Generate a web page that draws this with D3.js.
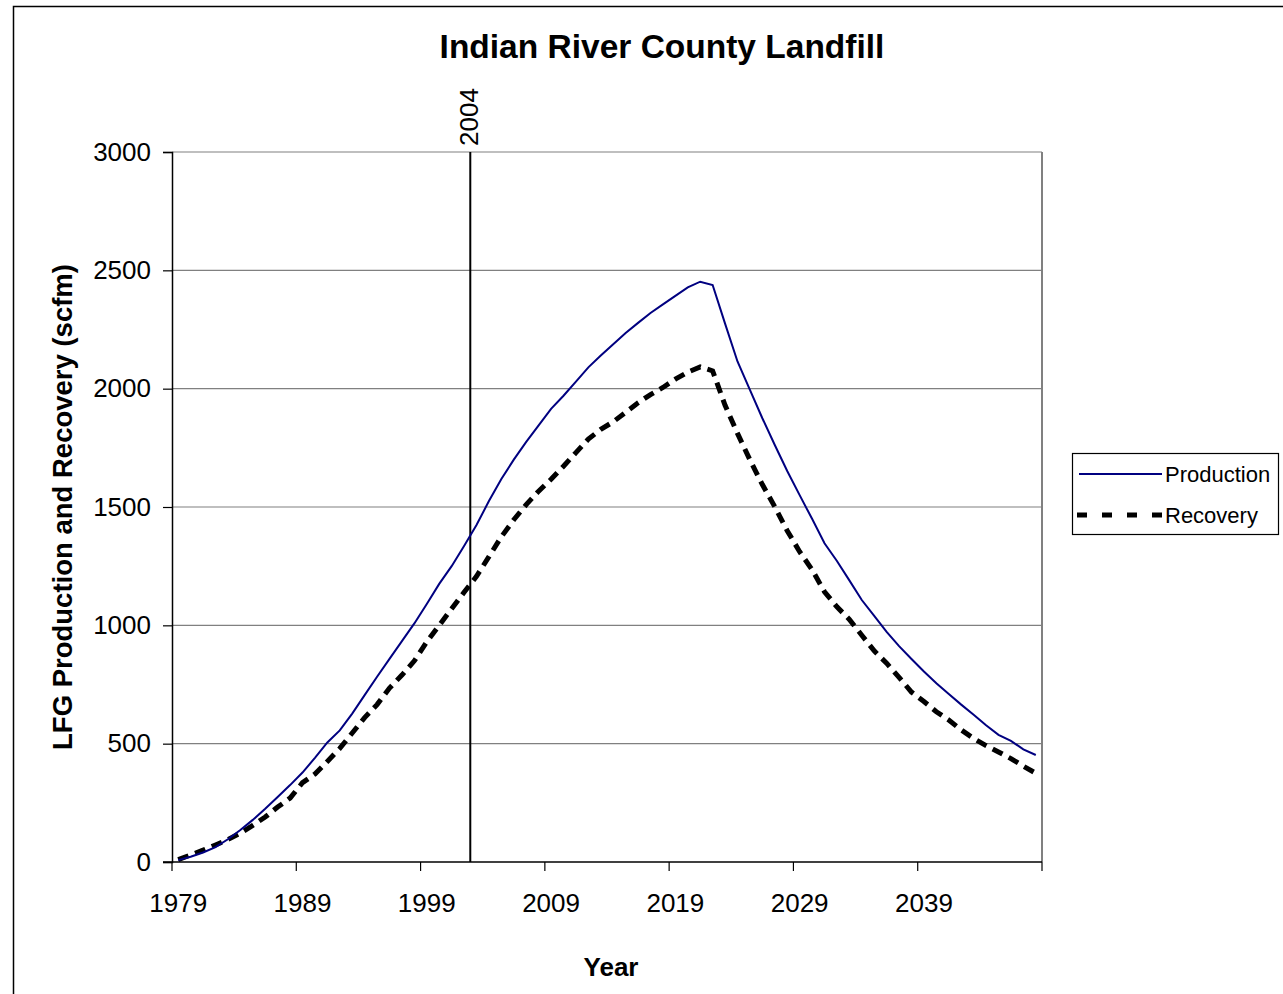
<!DOCTYPE html>
<html>
<head>
<meta charset="utf-8">
<script src="https://cdn.jsdelivr.net/npm/d3@7"></script>
<style>
  html, body { margin: 0; padding: 0; background: #fff; }
  svg { display: block; font-family: "Liberation Sans", Arial, sans-serif; }
</style>
</head>
<body>
<svg id="chart" width="1283" height="994"></svg>
<script>
// ---- Data ----
const years = d3.range(1979, 2049);
const production = [
  8, 22, 40, 63, 96, 135, 178, 225, 275, 325,
  378, 440, 505, 556, 627, 705, 783, 858, 933, 1008,
  1090, 1175, 1250, 1335, 1424, 1525, 1618, 1700, 1775, 1845,
  1915, 1970, 2030, 2090, 2140, 2188, 2235, 2278, 2320, 2356,
  2392, 2428, 2452, 2438, 2275, 2115, 1995, 1875, 1762, 1652,
  1550, 1450, 1347, 1272, 1190, 1107, 1040, 972, 912, 858,
  805, 755, 710, 665, 622, 578, 537, 512, 476, 452
];
const recovery = [
  10, 30, 50, 72, 95, 122, 155, 190, 232, 270,
  335, 372, 425, 480, 545, 610, 665, 735, 790, 850,
  930, 1000, 1070, 1140, 1207, 1290, 1374, 1446, 1510, 1567,
  1617, 1672, 1730, 1787, 1828, 1860, 1900, 1940, 1975, 2005,
  2040, 2070, 2092, 2075, 1930, 1811, 1699, 1595, 1501, 1400,
  1311, 1235, 1142, 1078, 1025, 958, 892, 840, 780, 718,
  678, 635, 600, 558, 522, 492, 465, 437, 405, 375
];
const xTickLabels = ["1979", "1989", "1999", "2009", "2019", "2029", "2039"];
const yTicks = [0, 500, 1000, 1500, 2000, 2500, 3000];
const seriesNames = ["Production", "Recovery"];
const markerLabel = "2004";
const markerBoundaryYear = 2003;
const titleText = "Indian River County Landfill";
const xTitle = "Year";
const yTitle = "LFG Production and Recovery (scfm)";

// ---- Layout ----
const svg = d3.select("#chart");
const L = 172, R = 1042, T = 152, B = 862;

const x = d3.scaleBand().domain(years).range([L, R]).padding(0);
const cx = d => x(d) + x.bandwidth() / 2;
const y = d3.scaleLinear().domain([0, 3000]).range([B, T]);

// outer border
svg.append("rect").attr("x", 13.5).attr("y", 6.5).attr("width", 1300).attr("height", 1000)
  .attr("fill", "none").attr("stroke", "#000").attr("stroke-width", 1.5);

// gridlines
svg.append("g").selectAll("line").data(yTicks.filter(v => v > 0)).join("line")
  .attr("x1", L).attr("x2", R).attr("y1", d => y(d)).attr("y2", d => y(d))
  .attr("stroke", "#808080").attr("stroke-width", 1.2);

// right border of plot
svg.append("line").attr("x1", R).attr("x2", R).attr("y1", T).attr("y2", B)
  .attr("stroke", "#808080").attr("stroke-width", 2);

// y axis
const yAxis = svg.append("g").attr("transform", `translate(${L},0)`)
  .call(d3.axisLeft(y).tickValues(yTicks).tickSize(9).tickPadding(12).tickFormat(d3.format("d")));
yAxis.select(".domain").attr("stroke", "#000").attr("stroke-width", 1.5);
yAxis.selectAll(".tick line").attr("stroke", "#000").attr("stroke-width", 1.2);
yAxis.selectAll(".tick text").attr("font-size", 26).attr("fill", "#000")
  .attr("font-family", "Liberation Sans, Arial, sans-serif");

// x axis
const xg = svg.append("g");
xg.append("line").attr("x1", L - 9).attr("x2", R).attr("y1", B).attr("y2", B)
  .attr("stroke", "#000").attr("stroke-width", 1.5);
const tickYears = years.filter((d, i) => i % 10 === 0);
xg.selectAll("line.tk").data(tickYears).join("line").attr("class", "tk")
  .attr("x1", d => x(d)).attr("x2", d => x(d)).attr("y1", B).attr("y2", B + 9)
  .attr("stroke", "#000").attr("stroke-width", 1.2);
xg.append("line").attr("x1", R).attr("x2", R).attr("y1", B).attr("y2", B + 9)
  .attr("stroke", "#000").attr("stroke-width", 1.2);
xg.selectAll("text").data(xTickLabels).join("text")
  .attr("x", d => cx(+d)).attr("y", 912)
  .attr("text-anchor", "middle").attr("font-size", 26).text(d => d);

// marker line
const mx = x(markerBoundaryYear);
svg.append("line").attr("x1", mx).attr("x2", mx).attr("y1", T).attr("y2", B)
  .attr("stroke", "#000").attr("stroke-width", 2);
svg.append("text").attr("transform", `translate(${mx + 8},146) rotate(-90)`)
  .attr("text-anchor", "start").attr("font-size", 26).text(markerLabel);

// lines
const lineGen = d3.line().x((d, i) => cx(years[i])).y(d => y(d));
svg.append("path").datum(recovery).attr("d", lineGen)
  .attr("fill", "none").attr("stroke", "#000").attr("stroke-width", 5)
  .attr("stroke-dasharray", "11,7");
svg.append("path").datum(production).attr("d", lineGen)
  .attr("fill", "none").attr("stroke", "#000080").attr("stroke-width", 2);

// title
svg.append("text").attr("x", 662).attr("y", 58).attr("text-anchor", "middle")
  .attr("font-size", 33.5).attr("font-weight", "bold").text(titleText);

// axis titles
svg.append("text").attr("x", 611).attr("y", 976).attr("text-anchor", "middle")
  .attr("font-size", 26).attr("font-weight", "bold").text(xTitle);
svg.append("text").attr("transform", `translate(72,507) rotate(-90)`)
  .attr("text-anchor", "middle").attr("font-size", 27.5).attr("font-weight", "bold").text(yTitle);

// legend
const lg = svg.append("g");
lg.append("rect").attr("x", 1072.5).attr("y", 453.5).attr("width", 206).attr("height", 81)
  .attr("fill", "#fff").attr("stroke", "#000").attr("stroke-width", 1.2);
const legendItems = [
  { name: seriesNames[0], color: "#000080", width: 2, dash: null, y: 474 },
  { name: seriesNames[1], color: "#000", width: 5, dash: "10,15", y: 515 }
];
legendItems.forEach(it => {
  lg.append("line").attr("x1", it.dash ? 1077 : 1079).attr("x2", 1162).attr("y1", it.y).attr("y2", it.y)
    .attr("stroke", it.color).attr("stroke-width", it.width)
    .attr("stroke-dasharray", it.dash);
  lg.append("text").attr("x", 1165).attr("y", it.y + 8).attr("font-size", 22).text(it.name);
});
</script>
</body>
</html>
